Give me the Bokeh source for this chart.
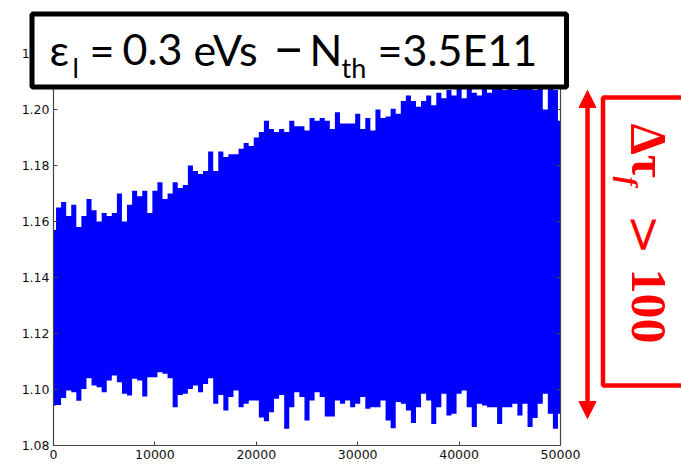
import math
from bokeh.plotting import figure
from bokeh.models import (Range1d, LinearAxis, FixedTicker, NumeralTickFormatter,
                          CustomJSTickFormatter, BoxAnnotation, Label, Arrow, NormalHead)
from bokeh.embed import file_html
from bokeh.resources import INLINE

# ---------------- data ----------------
sample_x = list(range(0, 50001, 500))

upper_env = [
    1.157, 1.165, 1.167, 1.162, 1.166, 1.158, 1.162, 1.168, 1.164, 1.160,
    1.163, 1.162, 1.163, 1.170, 1.160, 1.166, 1.171, 1.169, 1.171, 1.163,
    1.171, 1.174, 1.168, 1.170, 1.174, 1.172, 1.173, 1.180, 1.178, 1.177,
    1.178, 1.185, 1.178, 1.185, 1.183, 1.184, 1.184, 1.186, 1.188, 1.187,
    1.190, 1.192, 1.196, 1.193, 1.192, 1.193, 1.192, 1.196, 1.194, 1.194,
    1.1925, 1.197, 1.196, 1.197, 1.196, 1.193, 1.199, 1.195, 1.195, 1.195,
    1.1985, 1.193, 1.197, 1.1925, 1.200, 1.197, 1.1975, 1.2003, 1.1985, 1.203,
    1.205, 1.203, 1.201, 1.203, 1.205, 1.2015, 1.206, 1.204, 1.207, 1.205,
    1.208, 1.204, 1.208, 1.206, 1.205, 1.209, 1.206, 1.208, 1.209, 1.207,
    1.209, 1.207, 1.210, 1.208, 1.209, 1.207, 1.210, 1.200, 1.209, 1.207,
    1.196,
]

lower_env = [
    1.0943, 1.0945, 1.0970, 1.0996, 1.0990, 1.0960, 1.1002, 1.1040, 1.1014, 1.1008,
    1.0990, 1.1032, 1.1050, 1.1026, 1.0985, 1.0979, 1.1038, 1.1032, 1.0975, 1.1044,
    1.1044, 1.1062, 1.1056, 1.1040, 1.0937, 1.0980, 1.0985, 1.1002, 1.1014, 1.0990,
    1.1020, 1.1040, 1.0949, 1.0980, 1.0925, 1.0973, 1.0996, 1.0937, 1.0949, 1.0961,
    1.0961, 1.0900, 1.0887, 1.0919, 1.0967, 1.0980, 1.0860, 1.0937, 1.0990, 1.0973,
    1.0889, 1.0961, 1.0990, 1.0973, 1.0904, 1.0904, 1.0961, 1.0949, 1.0961, 1.0937,
    1.0949, 1.0973, 1.0931, 1.0937, 1.0937, 1.0961, 1.0889, 1.0862, 1.0955, 1.0949,
    1.0925, 1.0880, 1.0937, 1.0985, 1.0961, 1.0877, 1.0937, 1.0985, 1.0907, 1.0913,
    1.0985, 1.0996, 1.0937, 1.0866, 1.0949, 1.0943, 1.0937, 1.0937, 1.0877, 1.0937,
    1.0937, 1.0949, 1.0907, 1.0949, 1.0866, 1.0898, 1.0949, 1.0985, 1.0913, 1.0860,
    1.0913,
]

x_ticks = [0, 10000, 20000, 30000, 40000, 50000]
y_ticks = [1.08, 1.10, 1.12, 1.14, 1.16, 1.18, 1.20, 1.22]
x_lim = (0, 50000)
y_lim = (1.08, 1.22)

title_parts = ["ε", "l", "=", "0.3", "eVs", "–", "N", "th", "=3.5E11"]
side_parts = ["Δτ", "f", ">", "100"]

# ---------------- layout ----------------
W, H = 681, 464
FL, FR, FT, FB = 53, 560, 53, 445   # plot-area edges in page pixels

# the frame spans the whole page; the plot area is placed through the ranges
dx = (x_lim[1] - x_lim[0]) / (FR - FL)
dy = (y_lim[1] - y_lim[0]) / (FB - FT)
x_range = Range1d(x_lim[0] - FL * dx, x_lim[1] + (W - FR) * dx)
y_range = Range1d(y_lim[0] - (H - FB) * dy, y_lim[1] + FT * dy)

p = figure(width=W, height=H, output_backend="svg", toolbar_location=None,
           x_range=x_range, y_range=y_range,
           min_border=0, min_border_left=0, min_border_right=0,
           min_border_top=0, min_border_bottom=0,
           x_axis_location=None, y_axis_location=None)
p.grid.visible = False
p.background_fill_color = "white"
p.border_fill_color = "white"
p.outline_line_color = None

SPINE = "#444444"

def make_axis(ticks, fmt, fixed, bounds, labels=True):
    ax = LinearAxis(ticker=FixedTicker(ticks=ticks),
                    formatter=fmt if labels else CustomJSTickFormatter(code="return ''"),
                    fixed_location=fixed, bounds=bounds)
    ax.axis_line_color = SPINE
    ax.axis_line_width = 1.2
    ax.major_tick_in = 4
    ax.major_tick_out = 0
    ax.major_tick_line_color = SPINE
    ax.minor_tick_line_color = None
    ax.major_label_text_font = "DejaVu Sans"
    ax.major_label_text_font_size = "12.5px"
    ax.major_label_text_color = "#111111"
    ax.major_label_standoff = 4
    return ax

p.add_layout(make_axis(x_ticks, NumeralTickFormatter(format="0"), y_lim[0], x_lim), "below")
p.add_layout(make_axis(x_ticks, None, y_lim[1], x_lim, labels=False), "above")
p.add_layout(make_axis(y_ticks, NumeralTickFormatter(format="0.00"), x_lim[0], y_lim), "left")
p.add_layout(make_axis(y_ticks, None, x_lim[1], y_lim, labels=False), "right")

# the signal band
p.varea_step(x=sample_x, y1=lower_env, y2=upper_env, step_mode="center",
             fill_color="#0000ff", fill_alpha=1.0)

def sx(px):
    return px

def sy(py):
    return H - py

# title box
p.add_layout(BoxAnnotation(left=sx(31.5), right=sx(566), top=sy(13.5), bottom=sy(86.5),
                           left_units="screen", right_units="screen",
                           top_units="screen", bottom_units="screen",
                           fill_color="white", fill_alpha=1.0,
                           line_color="black", line_alpha=1.0, line_width=5))

main_font = "Lato"
title_specs = [  # (text, x, anchor y, size)
    (title_parts[0], 49, 49, "43px"),
    (title_parts[1], 72, 67, "27px"),
    (title_parts[2], 89, 49, "43px"),
    (title_parts[3], 122, 49, "43px"),
    (title_parts[4], 193, 49, "43px"),
    (title_parts[5], 272, 45, "56px"),
    (title_parts[6], 309, 49, "43px"),
    (title_parts[7], 341, 67, "27px"),
    (title_parts[8], 377, 49, "43px"),
]
for t, x, y, s in title_specs:
    p.add_layout(Label(x=sx(x), y=sy(y), x_units="screen", y_units="screen", text=t,
                       text_font=main_font, text_font_size=s, text_color="black",
                       text_align="left", text_baseline="alphabetic"))

# red annotation
p.add_layout(BoxAnnotation(left=sx(602.5), right=sx(720), top=sy(97), bottom=sy(385),
                           left_units="screen", right_units="screen",
                           top_units="screen", bottom_units="screen",
                           fill_color=None, fill_alpha=0, line_color="#ff0000", line_alpha=1.0,
                           line_width=4.5))

p.add_layout(Arrow(x_start=sx(587), y_start=sy(418), x_end=sx(587), y_end=sy(90),
                   start_units="screen", end_units="screen",
                   line_color="#ff0000", line_width=4.5,
                   start=NormalHead(size=17, fill_color="#ff0000", line_color="#ff0000"),
                   end=NormalHead(size=17, fill_color="#ff0000", line_color="#ff0000")))

side_specs = [  # (text, anchor x, start y, font, size, style)
    (side_parts[0], 648, 123, "Liberation Serif", "50px", "bold"),
    (side_parts[1], 628, 176, "Liberation Serif", "28px", "bold italic"),
    (side_parts[2], 644, 214, "DejaVu Serif", "48px", "normal"),
    (side_parts[3], 648, 268, "Liberation Serif", "50px", "bold"),
]
for t, x, y, f, s, st in side_specs:
    p.add_layout(Label(x=sx(x), y=sy(y), x_units="screen", y_units="screen", text=t,
                       angle=-math.pi / 2, text_font=f, text_font_size=s,
                       text_font_style=st, text_color="#ff0000",
                       text_align="left", text_baseline="alphabetic"))

open("out.html", "w").write(file_html(p, INLINE))
